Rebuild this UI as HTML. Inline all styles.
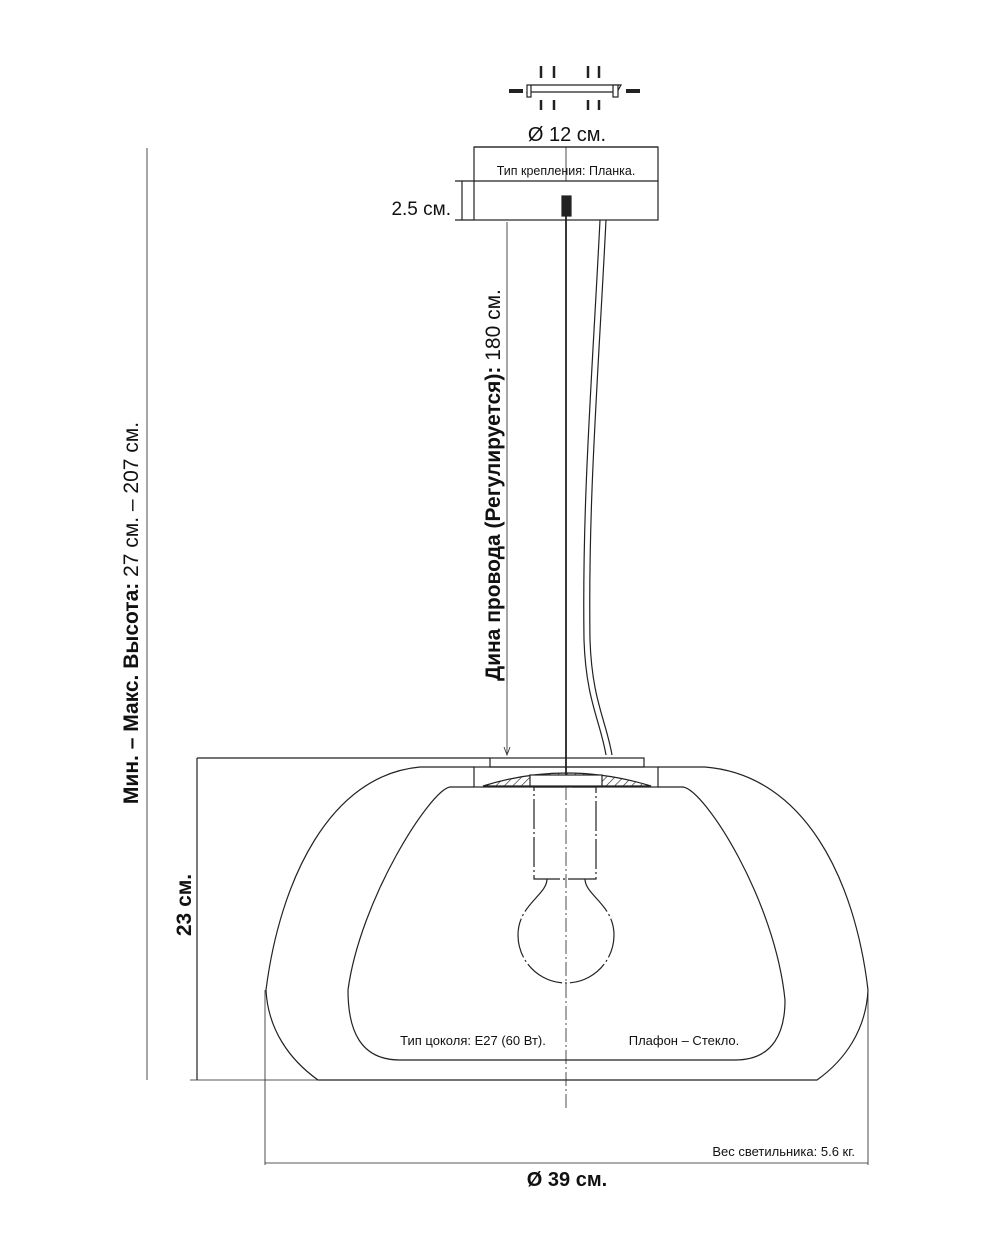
<!DOCTYPE html>
<html><head><meta charset="utf-8"><style>
html,body{margin:0;padding:0;background:#fff}
svg{display:block}
text{font-family:"Liberation Sans","DejaVu Sans",sans-serif;fill:#111}
</style></head><body>
<svg width="1000" height="1250" viewBox="0 0 1000 1250" xmlns="http://www.w3.org/2000/svg">
<defs>
<pattern id="h" width="6" height="6" patternUnits="userSpaceOnUse" patternTransform="rotate(45)"><line x1="0" y1="0" x2="0" y2="6" stroke="#222" stroke-width="1.2"/></pattern>
</defs>
<g stroke="#222" fill="none" stroke-width="1.2">
<!-- bracket icon -->
<path d="M531 85 L621 85 L617 92 L527 92 Z" fill="#fff"/>
<rect x="527" y="85" width="4" height="12" fill="#fff"/><rect x="613" y="85" width="5" height="12" fill="#fff"/>
<line x1="509" y1="91" x2="523" y2="91" stroke-width="4"/><line x1="626" y1="91" x2="640" y2="91" stroke-width="4"/>
<g stroke-width="2.5">
<line x1="541" y1="66" x2="541" y2="78"/><line x1="554" y1="66" x2="554" y2="78"/><line x1="588" y1="66" x2="588" y2="78"/><line x1="599" y1="66" x2="599" y2="78"/>
<line x1="541" y1="100" x2="541" y2="110"/><line x1="554" y1="100" x2="554" y2="110"/><line x1="588" y1="100" x2="588" y2="110"/><line x1="599" y1="100" x2="599" y2="110"/>
</g>
<!-- canopy -->
<line x1="474" y1="147" x2="658" y2="147"/>
<rect x="474" y="147" width="184" height="73"/>
<line x1="474" y1="181" x2="658" y2="181"/>
<line x1="455" y1="181" x2="474" y2="181"/><line x1="455" y1="220" x2="474" y2="220"/><line x1="462" y1="181" x2="462" y2="220"/>
<rect x="562" y="196" width="9" height="20" fill="#222"/>
<line x1="566" y1="147" x2="566" y2="181" stroke-width="0.8"/>
<!-- rod & cable -->
<line x1="566" y1="216" x2="566" y2="786" stroke-width="1.8"/>
<path d="M600 220 C592 380 582 500 584 640 C586 700 600 720 606 755"/>
<path d="M606 220 C598 380 588 500 590 640 C592 700 606 720 612 755"/>
<line x1="507" y1="222" x2="507" y2="753" stroke-width="0.8"/>
<path d="M504 747 L507 755 L510 747" stroke-width="0.8"/>
<!-- left long dim -->
<line x1="147" y1="148" x2="147" y2="1080" stroke-width="0.8"/>
<line x1="190" y1="1080" x2="320" y2="1080" stroke-width="0.8"/>
<!-- 23 dim -->
<line x1="197" y1="758" x2="490" y2="758"/>
<line x1="197" y1="758" x2="197" y2="1080"/>
<!-- shade plate -->
<rect x="490" y="758" width="154" height="9"/>
<rect x="474" y="767" width="184" height="20"/>
<path d="M483 786 Q566 760 651 786 Z" fill="url(#h)"/>
<rect x="530" y="775" width="72" height="11" fill="#fff"/>
<!-- outer shade -->
<path d="M474 767 L420 767 C330 775 280 880 266 990 C268 1030 290 1060 318 1080 L817 1080 C845 1060 866 1030 868 990 C855 880 805 775 705 767 L658 767"/>
<!-- inner shade -->
<path d="M474 787 L450 787 C430 790 360 900 348 990 C348 1030 360 1060 400 1060 L735 1060 C775 1060 785 1030 785 1000 C775 900 705 790 683 787 L658 787"/>
<!-- socket & bulb -->
<rect x="534" y="787" width="62" height="92" stroke-dasharray="30 3 2 3"/>
<path d="M547 879 C547 895 518 905 518 935 A48 48 0 0 0 614 935 C614 905 585 895 585 879" stroke-dasharray="40 3 2 3"/>
<line x1="566" y1="786" x2="566" y2="1110" stroke-width="0.8" stroke-dasharray="14 3 2 3"/>
<!-- 39 dim -->
<line x1="265" y1="990" x2="265" y2="1165" stroke-width="0.8"/>
<line x1="868" y1="990" x2="868" y2="1165" stroke-width="0.8"/>
<line x1="265" y1="1163" x2="868" y2="1163" stroke-width="0.8"/>
</g>
<text x="567" y="141" font-size="20" text-anchor="middle">Ø 12 см.</text>
<text x="566" y="175" font-size="12.5" text-anchor="middle">Тип крепления: Планка.</text>
<text x="451" y="215" font-size="19" text-anchor="end">2.5 см.</text>
<text transform="translate(500,485) rotate(-90)" font-size="21" text-anchor="middle"><tspan font-weight="bold">Дина провода (Регулируется):</tspan> 180 см.</text>
<text transform="translate(138,613) rotate(-90)" font-size="21" text-anchor="middle"><tspan font-weight="bold">Мин. – Макс. Высота:</tspan> 27 см. – 207 см.</text>
<text transform="translate(191,905) rotate(-90)" font-size="21" font-weight="bold" text-anchor="middle">23 см.</text>
<text x="473" y="1045" font-size="13" text-anchor="middle">Тип цоколя: E27 (60 Вт).</text>
<text x="684" y="1045" font-size="13" text-anchor="middle">Плафон – Стекло.</text>
<text x="855" y="1156" font-size="13" text-anchor="end">Вес светильника: 5.6 кг.</text>
<text x="567" y="1186" font-size="20" font-weight="bold" text-anchor="middle">Ø 39 см.</text>
</svg>
</body></html>
